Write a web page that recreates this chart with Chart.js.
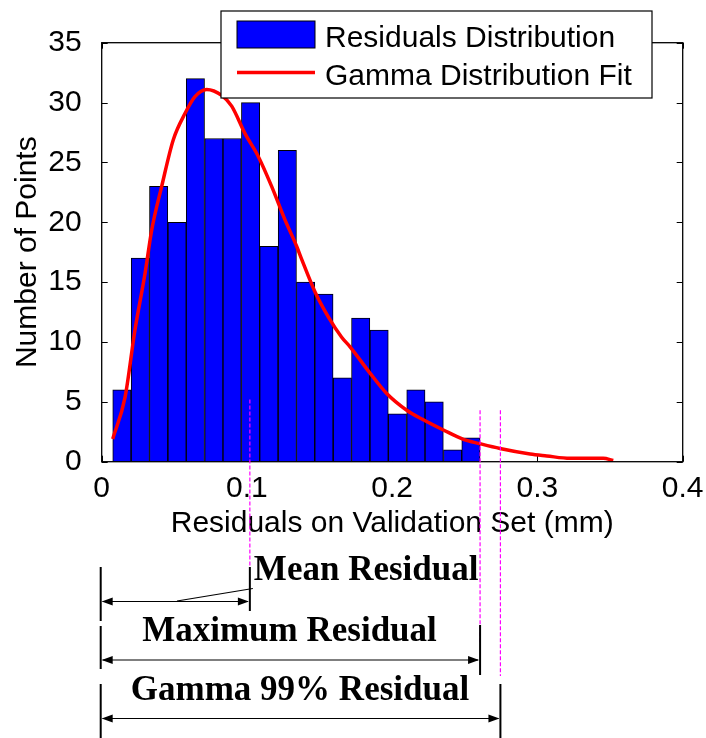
<!DOCTYPE html>
<html>
<head>
<meta charset="utf-8">
<script src="https://cdn.jsdelivr.net/npm/chart.js@4.4.1/dist/chart.umd.min.js"></script>
<style>
  html, body { margin: 0; padding: 0; background: #fff; }
  #wrap { width: 706px; height: 738px; }
</style>
</head>
<body>
<div id="wrap"><canvas id="residualChart" width="706" height="738"></canvas></div>
<script>
// histogram bins (centre of each bin, mm) and counts
const binCenters = [0.0139, 0.0266, 0.0392, 0.0519, 0.0645, 0.0772, 0.0898, 0.1025, 0.1151, 0.1278,
                    0.1404, 0.1530, 0.1657, 0.1783, 0.1910, 0.2036, 0.2163, 0.2289, 0.2416, 0.2542];
const binCounts = [6, 17, 23, 20, 32, 27, 27, 30, 18, 26, 15, 14, 7, 12, 11, 4, 6, 5, 1, 2];

// gamma fit curve
const fitX = [0.0076, 0.0161, 0.0229, 0.0298, 0.0345, 0.0413, 0.0493, 0.0574, 0.0642, 0.0723,
              0.0826, 0.0895, 0.0987, 0.1078, 0.1170, 0.1262, 0.1342, 0.1377, 0.1468, 0.1560,
              0.1652, 0.1710, 0.1847, 0.1962, 0.2100, 0.2214, 0.2352, 0.2490, 0.2605, 0.2742,
              0.2949, 0.3064, 0.3224, 0.3453, 0.3522];
const fitY = [1.9, 5.4, 11.0, 15.7, 19.4, 23.0, 26.9, 29.1, 30.5, 31.1,
              30.6, 29.7, 27.4, 25.5, 23.0, 20.2, 18.0, 16.9, 14.2, 12.1,
              10.4, 9.6, 7.4, 5.7, 4.3, 3.5, 2.65, 1.87, 1.5, 1.1,
              0.64, 0.48, 0.28, 0.28, 0.1];

const xTicks = [0, 0.1, 0.2, 0.3, 0.4];
const yTicks = [0, 5, 10, 15, 20, 25, 30, 35];

// mean, maximum and gamma 99% residual (mm)
const markValues = [0.102, 0.2605, 0.2745];
const markLabels = ['Mean Residual', 'Maximum Residual', 'Gamma 99% Residual'];

const seriesLabels = ['Residuals Distribution', 'Gamma Distribution Fit'];

const sans = '"Liberation Sans", Arial, sans-serif';
const serif = '"Liberation Serif", "Times New Roman", serif';

function arrowHead(c, x, y, dir) {
    c.beginPath();
    c.moveTo(x, y);
    c.lineTo(x - dir * 11, y - 4);
    c.lineTo(x - dir * 11, y + 4);
    c.closePath();
    c.fill();
}

function vline(c, x, y1, y2) {
    c.beginPath();
    c.moveTo(x, y1);
    c.lineTo(x, y2);
    c.stroke();
}

const matlabLook = {
    id: 'matlabLook',
    beforeDatasetsDraw(chart) {
        const c = chart.ctx, a = chart.chartArea;
        const xs = chart.scales.x, ys = chart.scales.y;
        c.save();
        c.strokeStyle = '#000';
        c.lineWidth = 1;
        c.beginPath();
        xTicks.forEach(v => {
            const px = Math.round(xs.getPixelForValue(v)) + 0.5;
            c.moveTo(px, a.bottom); c.lineTo(px, a.bottom - 6);
            c.moveTo(px, a.top); c.lineTo(px, a.top + 6);
        });
        yTicks.forEach(v => {
            const py = Math.round(ys.getPixelForValue(v)) + 0.5;
            c.moveTo(a.left, py); c.lineTo(a.left + 6, py);
            c.moveTo(a.right, py); c.lineTo(a.right - 6, py);
        });
        c.stroke();
        c.restore();
    },
    afterDatasetsDraw(chart) {
        const c = chart.ctx, a = chart.chartArea;
        c.save();
        c.strokeStyle = '#000';
        c.lineWidth = 1.3;
        c.strokeRect(a.left, a.top, a.right - a.left, a.bottom - a.top);
        c.restore();
    },
    afterDraw(chart) {
        const c = chart.ctx;
        const xs = chart.scales.x, ys = chart.scales.y;
        const x0 = xs.getPixelForValue(0) - 1;
        const xm = markValues.map(v => xs.getPixelForValue(v));
        c.save();

        // dashed markers
        c.strokeStyle = '#ff00ff';
        c.lineWidth = 1.2;
        c.setLineDash([4, 2]);
        vline(c, xm[0], ys.getPixelForValue(5.2), 566);
        vline(c, xm[1], ys.getPixelForValue(4.3), 644);
        vline(c, xm[2], ys.getPixelForValue(4.3), 676);
        c.setLineDash([]);

        // legend box
        c.fillStyle = '#fff';
        c.fillRect(221, 11, 431, 87);
        c.strokeStyle = '#000';
        c.lineWidth = 1.2;
        c.strokeRect(221, 11, 431, 87);
        c.fillStyle = '#0000ff';
        c.fillRect(237, 21, 78, 27);
        c.lineWidth = 1;
        c.strokeRect(237, 21, 78, 27);
        c.strokeStyle = '#ff0000';
        c.lineWidth = 3.5;
        c.beginPath();
        c.moveTo(237, 72.5); c.lineTo(315, 72.5);
        c.stroke();
        c.fillStyle = '#000';
        c.font = '30px ' + sans;
        c.textAlign = 'left';
        c.textBaseline = 'alphabetic';
        c.fillText(seriesLabels[0], 325, 46.5);
        c.fillText(seriesLabels[1], 325, 85);

        // annotation under the axes
        c.strokeStyle = '#000';
        c.fillStyle = '#000';
        c.lineWidth = 2;
        vline(c, x0, 567, 621);
        vline(c, xm[0], 567, 611);
        vline(c, x0, 626, 669);
        vline(c, xm[1], 625, 675);
        vline(c, x0, 684, 738);
        vline(c, xm[2], 684, 738);

        c.lineWidth = 1.2;
        [[xm[0], 601.5], [xm[1], 660], [xm[2], 718.5]].forEach(([xe, y]) => {
            c.beginPath();
            c.moveTo(x0 + 2, y); c.lineTo(xe - 2, y);
            c.stroke();
            arrowHead(c, x0 + 1, y, -1);
            arrowHead(c, xe - 1, y, 1);
        });
        c.beginPath();
        c.moveTo(177, 601); c.lineTo(xm[0] + 3, 588.5);
        c.stroke();

        c.font = 'bold 35px ' + serif;
        c.textAlign = 'left';
        c.fillText(markLabels[0], xm[0] + 4, 579.5);
        c.textAlign = 'center';
        c.fillText(markLabels[1], 289.5, 640.5);
        c.fillText(markLabels[2], 300, 699.5);
        c.restore();
    }
};

new Chart(document.getElementById('residualChart'), {
    data: {
        datasets: [{
            type: 'line',
            label: seriesLabels[1],
            data: fitX.map((x, i) => ({ x: x, y: fitY[i] })),
            borderColor: '#ff0000',
            borderWidth: 3.5,
            pointRadius: 0,
            cubicInterpolationMode: 'monotone',
            fill: false,
            order: 0
        }, {
            type: 'bar',
            label: seriesLabels[0],
            data: binCenters.map((x, i) => ({ x: x, y: binCounts[i] })),
            backgroundColor: '#0000ff',
            borderColor: '#000',
            borderWidth: 1,
            barPercentage: 1,
            categoryPercentage: 1,
            grouped: false,
            order: 1
        }]
    },
    options: {
        responsive: false,
        animation: false,
        layout: { padding: { top: 42.7, right: 23.3, bottom: 196.3, left: 0 } },
        plugins: { legend: { display: false }, tooltip: { enabled: false } },
        scales: {
            x: {
                type: 'linear',
                offset: false,
                min: 0, max: 0.4,
                afterFit: s => { s.height = 80; },
                afterBuildTicks: s => { s.ticks = xTicks.map(v => ({ value: v })); },
                grid: { display: false, offset: false },
                border: { display: false },
                ticks: { color: '#000', font: { family: sans, size: 30 }, padding: 1, maxRotation: 0 },
                title: { display: true, text: 'Residuals on Validation Set (mm)', color: '#000',
                         font: { family: sans, size: 30 }, padding: 0 }
            },
            y: {
                min: 0, max: 35,
                afterFit: s => { s.width = 101.7; },
                afterBuildTicks: s => { s.ticks = yTicks.map(v => ({ value: v })); },
                grid: { display: false },
                border: { display: false },
                ticks: { color: '#000', font: { family: sans, size: 30 }, padding: 12 },
                title: { display: true, text: 'Number of Points', color: '#000',
                         font: { family: sans, size: 30 }, padding: 10 }
            }
        }
    },
    plugins: [matlabLook]
});
</script>
</body>
</html>
